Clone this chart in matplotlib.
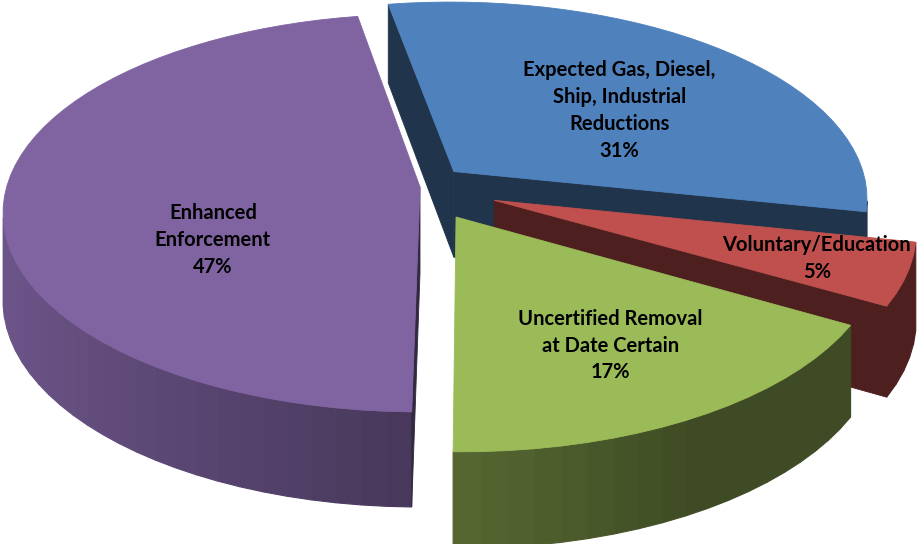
import numpy as np
import matplotlib.pyplot as plt
from matplotlib.patches import Polygon
from matplotlib.colors import to_rgb

# slices, clockwise from the top
labels = [
    "Expected Gas, Diesel,\nShip, Industrial\nReductions",
    "Voluntary/Education",
    "Uncertified Removal\nat Date Certain",
    "Enhanced\nEnforcement",
]
shares = [31, 5, 17, 47]
colors = ["#4F81BD", "#C0504D", "#9BBB59", "#8064A2"]

# how far each wedge is pulled out (fraction of the radius)
explode = [0.115, 0.19, 0.173, 0.0]
# where the text sits on each wedge: radius fraction, turn from mid-angle (deg)
label_radius = [0.54, 0.79, 0.67, 0.55]
label_turn = [6, 0, 0, -24]

START = 350.2          # angle of the first slice, clockwise from 12 o'clock
CX, CY = 420, 187      # pie centre on the canvas (pixels)
RX, RY = 413.4, 195.5  # ellipse radii
K = 0.131              # perspective: far side shrinks
DEPTH, KD = 86.3, 0.092


def project(u, v, drop=0.0):
    """Disc coords (u right, v back) -> canvas pixels; drop=1 is the base."""
    u = np.asarray(u, float)
    v = np.asarray(v, float)
    w = 1 + K * v
    x = CX + RX * u / w
    y = CY - RY * v / w + drop * DEPTH / (1 + KD * v)
    return x, y


def shade(color, f):
    return tuple(np.clip(np.array(to_rgb(color)) * f, 0, 1))


def wall_factor(theta):
    # light comes from the left, right-hand walls go dark
    return max(0.40, 0.55 - 0.30 * np.sin(theta))


def cross(a, b):
    return a[0] * b[1] - a[1] * b[0]


fig = plt.figure(figsize=(9.18, 5.44), dpi=100)
ax = fig.add_axes([0, 0, 1, 1])
ax.set_xlim(0, 918)
ax.set_ylim(544, 0)
ax.axis("off")

total = sum(shares)
angle = START
for i, (share, col) in enumerate(zip(shares, colors)):
    a0 = np.radians(angle)
    a1 = np.radians(angle + 360 * share / total)
    angle += 360 * share / total
    mid = (a0 + a1) / 2
    ou, ov = explode[i] * np.sin(mid), explode[i] * np.cos(mid)

    th = np.linspace(a0, a1, max(6, int(np.degrees(a1 - a0) / 3)))
    ru, rv = ou + np.sin(th), ov + np.cos(th)
    tx, ty = project(ru, rv)
    bx, by = project(ru, rv, 1)
    c = np.array(project(ou, ov))
    cb = np.array(project(ou, ov, 1))
    inner = np.array(project(ou + 0.5 * np.sin(mid), ov + 0.5 * np.cos(mid)))
    down = np.array([0.0, 1.0])

    # outer wall, only the facets turned towards the viewer
    for j in range(len(th) - 1):
        p1 = np.array([tx[j], ty[j]])
        p2 = np.array([tx[j + 1], ty[j + 1]])
        e = p2 - p1
        if np.sign(cross(e, down)) == np.sign(cross(e, c - p1)):
            continue
        fc = shade(col, wall_factor((th[j] + th[j + 1]) / 2))
        ax.add_patch(Polygon([p1, p2, (bx[j + 1], by[j + 1]), (bx[j], by[j])],
                             closed=True, fc=fc, ec=fc, lw=0.8))

    # cut faces along the two radii
    for k in (0, -1):
        p = np.array([tx[k], ty[k]])
        pb = np.array([bx[k], by[k]])
        e = p - c
        s1, s2 = cross(e, down), cross(e, inner - c)
        if abs(s1) < 2 or np.sign(s1) == np.sign(s2):
            continue
        fc = shade(col, 0.40)
        ax.add_patch(Polygon([c, p, pb, cb], closed=True, fc=fc, ec=fc, lw=0.6))

    # top face
    top = np.vstack([c, np.column_stack([tx, ty])])
    ax.add_patch(Polygon(top, closed=True, fc=col, ec=col, lw=0.6))

    # label
    la = mid + np.radians(label_turn[i])
    lx, ly = project(ou + label_radius[i] * np.sin(la),
                     ov + label_radius[i] * np.cos(la))
    ax.text(lx, ly, f"{labels[i]}\n{share}%", ha="center", va="center",
            multialignment="center", fontsize=14.5, fontweight="bold",
            family=["Lato", "DejaVu Sans"], color="black", linespacing=1.42)

fig.savefig("out.png", dpi=100)
